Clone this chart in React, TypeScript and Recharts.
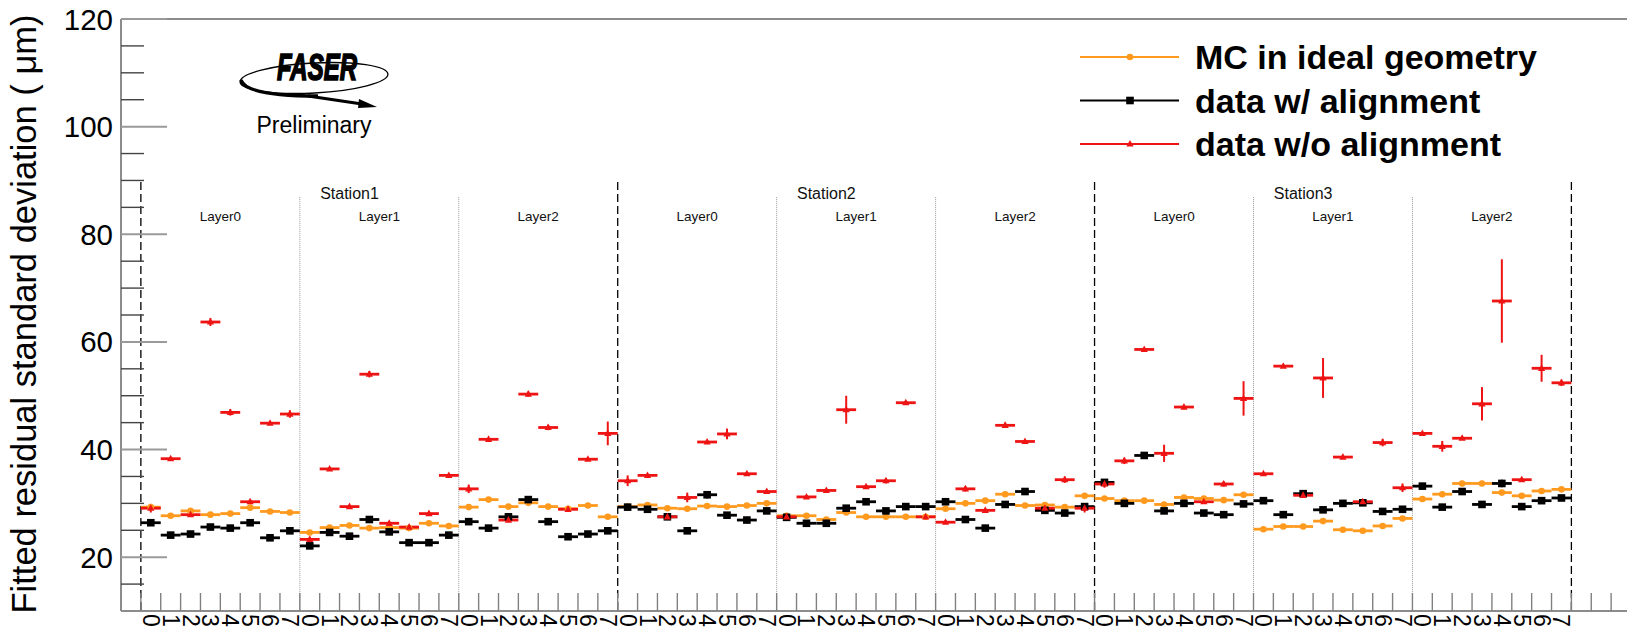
import React from 'react';
import {
  ComposedChart,
  Scatter,
  ErrorBar,
  XAxis,
  YAxis,
  ReferenceLine,
  ReferenceDot,
  Legend,
} from 'recharts';

const FONT = '"Liberation Sans", Arial, Helvetica, sans-serif';
const ORANGE = '#ff9a1e';
const RED = '#ee1414';
const BLACK = '#000000';

// 72 modules = 3 stations x 3 layers x 8 modules
const moduleLabels = ['0', '1', '2', '3', '4', '5', '6', '7'];
const stationNames = ['Station1', 'Station2', 'Station3'];
const layerNames = ['Layer0', 'Layer1', 'Layer2'];
const stationEdges = [-0.5, 23.5, 47.5, 71.5];
const layerEdges = [7.5, 15.5, 31.5, 39.5, 55.5, 63.5];
const yTicks = [15, 20, 25, 30, 35, 40, 45, 50, 55, 60, 65, 70, 75, 80, 85, 90, 95, 100, 105, 110, 115, 120];

const mcIdeal = [
  29.3, 27.7, 28.6, 27.9, 28.1, 29.2, 28.5, 28.3,
  24.6, 25.5, 25.9, 25.4, 25.5, 25.4, 26.3, 25.8,
  29.3, 30.7, 29.4, 30.1, 29.4, 29.0, 29.6, 27.5,
  29.4, 29.7, 29.1, 29.0, 29.5, 29.4, 29.6, 30.0,
  27.7, 27.7, 27.0, 28.3, 27.5, 27.5, 27.5, 27.5,
  29.0, 30.0, 30.5, 31.7, 29.6, 29.7, 29.3, 31.4,
  30.9, 30.5, 30.5, 29.8, 31.1, 30.9, 30.6, 31.6,
  25.2, 25.7, 25.7, 26.7, 25.1, 24.9, 25.8, 27.2,
  30.8, 31.7, 33.7, 33.7, 32.0, 31.4, 32.3, 32.6,
];
const mcIdealErr = [
  0.3, 0.25, 0.3, 0.25, 0.25, 0.3, 0.25, 0.25,
  0.3, 0.25, 0.25, 0.25, 0.25, 0.25, 0.25, 0.25,
  0.3, 0.25, 0.25, 0.3, 0.25, 0.25, 0.25, 0.25,
  0.25, 0.25, 0.25, 0.3, 0.3, 0.25, 0.25, 0.3,
  0.25, 0.25, 0.25, 0.25, 0.25, 0.25, 0.25, 0.25,
  0.3, 0.25, 0.3, 0.5, 0.25, 0.3, 0.25, 0.4,
  0.3, 0.3, 0.25, 0.4, 0.3, 0.3, 0.25, 0.4,
  0.25, 0.25, 0.25, 0.3, 0.25, 0.25, 0.3, 0.4,
  0.35, 0.35, 0.5, 0.5, 0.45, 0.35, 0.3, 0.4,
];

const dataAligned = [
  26.4, 24.1, 24.3, 25.6, 25.4, 26.4, 23.6, 24.9,
  22.1, 24.6, 23.9, 27.0, 24.7, 22.7, 22.7, 24.1,
  26.6, 25.4, 27.5, 30.7, 26.6, 23.8, 24.3, 24.9,
  29.3, 28.9, 27.5, 24.9, 31.6, 27.8, 26.9, 28.6,
  27.4, 26.3, 26.3, 29.1, 30.3, 28.6, 29.4, 29.4,
  30.3, 27.0, 25.4, 29.8, 32.2, 28.7, 28.2, 29.4,
  33.9, 30.0, 38.9, 28.6, 30.0, 28.2, 27.9, 29.9,
  30.5, 27.9, 31.8, 28.8, 30.0, 30.1, 28.5, 28.9,
  33.2, 29.3, 32.2, 29.8, 33.7, 29.4, 30.5, 31.0,
];
const dataAlignedErr = [
  0.3, 0.3, 0.3, 0.3, 0.3, 0.3, 0.3, 0.3,
  0.35, 0.3, 0.3, 0.3, 0.3, 0.3, 0.3, 0.3,
  0.3, 0.3, 0.3, 0.4, 0.3, 0.3, 0.3, 0.3,
  0.45, 0.3, 0.3, 0.3, 0.7, 0.3, 0.3, 0.3,
  0.35, 0.3, 0.3, 0.4, 0.5, 0.3, 0.3, 0.3,
  0.4, 0.3, 0.3, 0.5, 0.6, 0.3, 0.3, 0.3,
  0.6, 0.3, 0.6, 0.3, 0.5, 0.3, 0.3, 0.45,
  0.3, 0.3, 0.3, 0.3, 0.3, 0.4, 0.3, 0.45,
  0.6, 0.4, 0.4, 0.4, 0.7, 0.3, 0.3, 0.45,
];

const dataUnaligned = [
  29.1, 38.3, 27.9, 63.7, 46.9, 30.3, 44.9, 46.6,
  23.3, 36.4, 29.4, 54.0, 26.3, 25.6, 28.1, 35.2,
  32.7, 41.9, 26.9, 50.3, 44.1, 28.9, 38.2, 43.0,
  34.2, 35.2, 27.5, 31.1, 41.4, 42.9, 35.5, 32.2,
  27.5, 31.2, 32.4, 47.4, 33.1, 34.2, 48.7, 27.5,
  26.5, 32.7, 28.7, 44.5, 41.5, 29.1, 34.4, 29.1,
  33.6, 37.9, 58.6, 39.3, 47.9, 30.3, 33.6, 49.5,
  35.5, 55.5, 31.5, 53.3, 38.6, 30.3, 41.3, 32.9,
  43.0, 40.6, 42.1, 48.5, 67.6, 34.4, 55.1, 52.4,
];
const dataUnalignedErr = [
  0.8, 0.3, 0.3, 0.75, 0.6, 0.4, 0.3, 0.7,
  0.5, 0.3, 0.3, 0.6, 0.4, 0.3, 0.3, 0.3,
  0.8, 0.3, 0.3, 0.5, 0.5, 0.3, 0.3, 2.2,
  1.0, 0.3, 0.3, 0.9, 0.4, 1.0, 0.3, 0.3,
  0.5, 0.3, 0.3, 2.6, 0.3, 0.5, 0.3, 0.5,
  0.3, 0.5, 0.3, 0.5, 0.4, 0.4, 0.6, 0.8,
  0.7, 0.6, 0.2, 1.6, 0.4, 0.4, 0.5, 3.2,
  0.3, 0.3, 0.3, 3.7, 0.3, 0.3, 0.7, 0.8,
  0.3, 1.0, 0.3, 3.1, 7.75, 0.4, 2.5, 0.6,
];

const BIN_HALF = 0.5;

const makePoints = (values: number[], errors: number[]) =>
  values.map((v, i) => ({ module: i, value: v, err: errors[i], binHalf: BIN_HALF }));

const mcPoints = makePoints(mcIdeal, mcIdealErr);
const alignedPoints = makePoints(dataAligned, dataAlignedErr);
const unalignedPoints = makePoints(dataUnaligned, dataUnalignedErr);

const moduleCenters = mcIdeal.map((_, i) => i);
const binEdges = Array.from({ length: 75 }, (_, i) => i - 0.5);

const CircleMarker = ({ cx, cy }: any) => <circle cx={cx} cy={cy} r={3.3} fill={ORANGE} />;
const SquareMarker = ({ cx, cy }: any) => (
  <rect x={cx - 3.8} y={cy - 3.8} width={7.6} height={7.6} fill={BLACK} />
);
const TriangleMarker = ({ cx, cy }: any) => (
  <path d={`M${cx},${cy - 4} L${cx + 3.6},${cy + 2.6} L${cx - 3.6},${cy + 2.6} Z`} fill={RED} />
);

const BottomTick = ({ x, y, payload }: any) => {
  const v = payload.value;
  if (Number.isInteger(v)) {
    // vertical module labels, reading top to bottom
    return (
      <g transform={`translate(${x}, ${y + 3}) rotate(90)`}>
        <text x={0} y={0} dominantBaseline="central" fontSize={23} fontFamily={FONT} fill="#000">
          {moduleLabels[v % 8]}
        </text>
      </g>
    );
  }
  return <line x1={x} x2={x} y1={y} y2={y - 18} stroke="#808080" strokeWidth={1.4} />;
};

const TopTick = ({ x, y }: any) => (
  <line x1={x} x2={x} y1={y} y2={y + 17} stroke="#808080" strokeWidth={1.4} />
);

const LeftTick = ({ x, y, payload }: any) => {
  const v = payload.value;
  const major = v % 20 === 0;
  return (
    <g>
      <line
        x1={x}
        x2={x + (major ? 46 : 23)}
        y1={y}
        y2={y}
        stroke={major ? '#9a9a9a' : '#444'}
        strokeWidth={major ? 2 : 1.4}
      />
      {major && (
        <text x={x - 8} y={y} textAnchor="end" dominantBaseline="central" fontSize={29.5} fontFamily={FONT} fill="#000">
          {v}
        </text>
      )}
    </g>
  );
};

const RightTick = ({ x, y, payload }: any) => {
  const major = payload.value % 20 === 0;
  return (
    <line
      x1={x}
      x2={x - (major ? 46 : 23)}
      y1={y}
      y2={y}
      stroke={major ? '#9a9a9a' : '#444'}
      strokeWidth={major ? 2 : 1.4}
    />
  );
};

const legendMarkers: Record<string, (cx: number, cy: number) => React.ReactNode> = {
  circle: (cx, cy) => <CircleMarker cx={cx} cy={cy} />,
  square: (cx, cy) => <SquareMarker cx={cx} cy={cy} />,
  triangle: (cx, cy) => <TriangleMarker cx={cx} cy={cy} />,
};

const LegendContent = ({ payload }: any) => (
  <svg width={540} height={132} style={{ display: 'block' }}>
    {(payload || []).map((item: any, k: number) => {
      const y = 20 + k * 43.5;
      return (
        <g key={item.value}>
          <line x1={0} x2={99} y1={y} y2={y} stroke={item.color} strokeWidth={2} />
          {legendMarkers[item.type]?.(50, y)}
          <text
            x={115}
            y={y}
            dominantBaseline="central"
            fontSize={34}
            fontWeight="bold"
            fontFamily={FONT}
            fill="#000"
          >
            {item.value}
          </text>
        </g>
      );
    })}
  </svg>
);

export default function App() {
  return (
    <div style={{ position: 'absolute', left: 0, top: 0, width: 1627, height: 634, background: '#fff' }}>
      <ComposedChart width={1627} height={634} margin={{ top: 0, right: -4, bottom: 0, left: 0 }}>
        <XAxis
          dataKey="module"
          type="number"
          domain={[-1.5, 74.5]}
          allowDataOverflow
          ticks={[...moduleCenters, ...binEdges]}
          interval={0}
          tick={<BottomTick />}
          tickLine={false}
          tickSize={0}
          tickMargin={0}
          height={23}
          axisLine={{ stroke: '#8c8c8c', strokeWidth: 2 }}
        />
        <XAxis
          xAxisId="top"
          orientation="top"
          type="number"
          domain={[-1.5, 74.5]}
          allowDataOverflow
          ticks={binEdges}
          interval={0}
          tick={<TopTick />}
          tickLine={false}
          tickSize={0}
          tickMargin={0}
          height={19}
          axisLine={{ stroke: '#8c8c8c', strokeWidth: 2 }}
        />
        <YAxis
          type="number"
          domain={[10, 120]}
          allowDataOverflow
          ticks={yTicks}
          interval={0}
          tick={<LeftTick />}
          tickLine={false}
          tickSize={0}
          tickMargin={0}
          width={121}
          axisLine={{ stroke: '#8c8c8c', strokeWidth: 2 }}
        />
        <YAxis
          yAxisId="right"
          orientation="right"
          type="number"
          domain={[10, 120]}
          allowDataOverflow
          ticks={yTicks}
          interval={0}
          tick={<RightTick />}
          tickLine={false}
          tickSize={0}
          tickMargin={0}
          width={0}
          axisLine={{ stroke: '#8c8c8c', strokeWidth: 2 }}
        />

        {stationEdges.map((x) => (
          <ReferenceLine
            key={`s${x}`}
            segment={[{ x, y: 89.7 }, { x, y: 10 }]}
            stroke="#000"
            strokeWidth={1.3}
            strokeDasharray="8 4"
          />
        ))}
        {layerEdges.map((x) => (
          <ReferenceLine
            key={`l${x}`}
            segment={[{ x, y: 86.9 }, { x, y: 10 }]}
            stroke="#9a9a9a"
            strokeWidth={1}
            strokeDasharray="1 1"
          />
        ))}
        {stationNames.map((name, s) => (
          <ReferenceDot
            key={name}
            x={11.5 + 24 * s - 1.5}
            y={87.6}
            r={0}
            fill="none"
            stroke="none"
            label={{ value: name, position: 'center', fontSize: 16, fontFamily: FONT, fill: '#111' }}
          />
        ))}
        {stationNames.map((st, s) =>
          layerNames.map((name, l) => (
            <ReferenceDot
              key={`${st}-${name}`}
              x={3.5 + 24 * s + 8 * l}
              y={83.4}
              r={0}
              fill="none"
              stroke="none"
              label={{ value: name, position: 'center', fontSize: 13.5, fontFamily: FONT, fill: '#111' }}
            />
          ))
        )}

        <Scatter
          name="MC in ideal geometry"
          data={mcPoints}
          dataKey="value"
          fill={ORANGE}
          legendType="circle"
          shape={<CircleMarker />}
          isAnimationActive={false}
        >
          <ErrorBar dataKey="binHalf" direction="x" width={0} stroke={ORANGE} strokeWidth={2.8} isAnimationActive={false} />
          <ErrorBar dataKey="err" direction="y" width={0} stroke={ORANGE} strokeWidth={2} isAnimationActive={false} />
        </Scatter>
        <Scatter
          name="data w/ alignment"
          data={alignedPoints}
          dataKey="value"
          fill={BLACK}
          legendType="square"
          shape={<SquareMarker />}
          isAnimationActive={false}
        >
          <ErrorBar dataKey="binHalf" direction="x" width={0} stroke={BLACK} strokeWidth={2.8} isAnimationActive={false} />
          <ErrorBar dataKey="err" direction="y" width={0} stroke={BLACK} strokeWidth={2} isAnimationActive={false} />
        </Scatter>
        <Scatter
          name="data w/o alignment"
          data={unalignedPoints}
          dataKey="value"
          fill={RED}
          legendType="triangle"
          shape={<TriangleMarker />}
          isAnimationActive={false}
        >
          <ErrorBar dataKey="binHalf" direction="x" width={0} stroke={RED} strokeWidth={2.8} isAnimationActive={false} />
          <ErrorBar dataKey="err" direction="y" width={0} stroke={RED} strokeWidth={2} isAnimationActive={false} />
        </Scatter>

        <Legend
          layout="vertical"
          align="center"
          verticalAlign="middle"
          content={<LegendContent />}
          wrapperStyle={{ position: 'absolute', left: 1080, top: 37, width: 540, height: 132 }}
        />
      </ComposedChart>

      <svg
        width={1627}
        height={634}
        style={{ position: 'absolute', left: 0, top: 0, pointerEvents: 'none' }}
      >
        <text
          x={36}
          y={314}
          transform="rotate(-90 36 314)"
          textAnchor="middle"
          fontSize={34.5}
          fontFamily={FONT}
          fill="#000"
        >
          Fitted residual standard deviation ( μm)
        </text>
        <g>
          <ellipse cx={314} cy={78} rx={74} ry={15} transform="rotate(-3 314 78)" fill="none" stroke="#000" strokeWidth={1.3} />
          <path d="M 241 80 C 245 93, 280 96, 318 96" fill="none" stroke="#000" strokeWidth={3.5} />
          <path d="M 308 96 L 362 104" fill="none" stroke="#000" strokeWidth={3} />
          <path d="M 377 107 L 359 99 L 358 108 Z" fill="#000" />
          <text
            x={317}
            y={80}
            textAnchor="middle"
            fontSize={36}
            fontWeight="bold"
            fontStyle="italic"
            fontFamily={FONT}
            textLength={80}
            lengthAdjust="spacingAndGlyphs"
            fill="#000"
            stroke="#000"
            strokeWidth={1.6}
          >
            FASER
          </text>
          <text x={314} y={133} textAnchor="middle" fontSize={23} fontFamily={FONT} fill="#000">
            Preliminary
          </text>
        </g>
      </svg>
    </div>
  );
}
